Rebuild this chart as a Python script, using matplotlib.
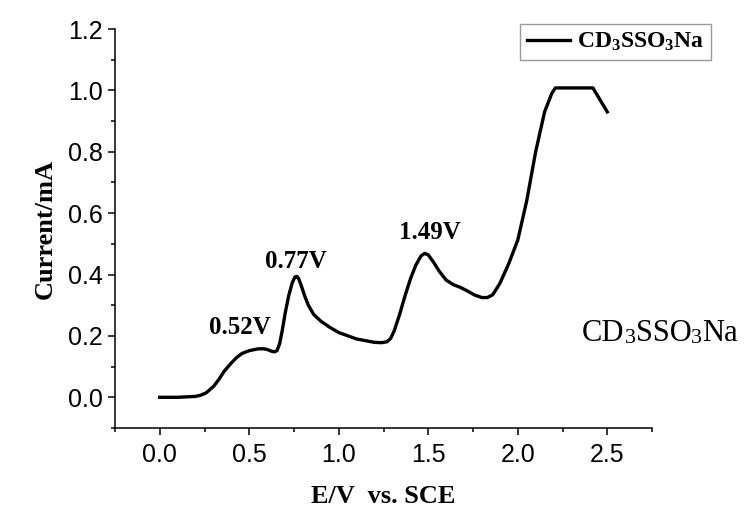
import matplotlib
matplotlib.use('Agg')
import matplotlib.pyplot as plt

# Data
potential = [0.0, 0.1, 0.2, 0.23, 0.26, 0.3, 0.33, 0.36, 0.4, 0.43, 0.46, 0.5, 0.55, 0.58,
             0.6, 0.62, 0.64, 0.655, 0.67, 0.685, 0.7, 0.72, 0.74, 0.755, 0.765, 0.775,
             0.79, 0.81, 0.83, 0.86, 0.9, 0.95, 1.0, 1.1, 1.2, 1.24, 1.27, 1.29, 1.31,
             1.34, 1.37, 1.4, 1.43, 1.46, 1.48, 1.5, 1.53, 1.56, 1.6, 1.64, 1.68, 1.72,
             1.76, 1.8, 1.83, 1.86, 1.9, 1.95, 2.0, 2.05, 2.1, 2.15, 2.19, 2.21, 2.42, 2.5]
current = [0.0, 0.0, 0.003, 0.007, 0.015, 0.035, 0.058, 0.085, 0.112, 0.13, 0.143, 0.152, 0.158, 0.158,
           0.156, 0.151, 0.148, 0.152, 0.175, 0.22, 0.272, 0.33, 0.373, 0.392, 0.394, 0.388,
           0.365, 0.33, 0.3, 0.27, 0.248, 0.228, 0.211, 0.19, 0.179, 0.178, 0.181, 0.192, 0.217,
           0.27, 0.33, 0.385, 0.43, 0.461, 0.469, 0.464, 0.44, 0.412, 0.382, 0.367, 0.358, 0.346,
           0.333, 0.325, 0.325, 0.334, 0.371, 0.436, 0.512, 0.64, 0.8, 0.93, 0.99, 1.008, 1.008, 0.93]

peak_labels = ['0.52V', '0.77V', '1.49V']
peak_x = [0.447, 0.76, 1.51]
peak_y = [0.228, 0.442, 0.537]

plt.rcParams['mathtext.fontset'] = 'custom'
plt.rcParams['mathtext.rm'] = 'Liberation Serif:bold'
plt.rcParams['mathtext.bf'] = 'Liberation Serif:bold'
plt.rcParams['mathtext.it'] = 'Liberation Serif:bold:italic'

fig = plt.figure(figsize=(7.51, 5.12), dpi=100)
ax = fig.add_axes([115/751, 1-428/512, (652-115)/751, (428-29)/512])

ax.plot(potential, current, color='black', linewidth=2.4, label='CD$_3$SSO$_3$Na',
        solid_joinstyle='round')

ax.set_xlim(-0.25, 2.75)
ax.set_ylim(-0.1, 1.2)
ax.set_xticks([0.0, 0.5, 1.0, 1.5, 2.0, 2.5])
ax.set_xticks([-0.25, 0.25, 0.75, 1.25, 1.75, 2.25, 2.75], minor=True)
ax.set_yticks([0.0, 0.2, 0.4, 0.6, 0.8, 1.0, 1.2])
ax.set_yticks([-0.1, 0.1, 0.3, 0.5, 0.7, 0.9, 1.1], minor=True)
ax.set_xticklabels(['0.0', '0.5', '1.0', '1.5', '2.0', '2.5'])
ax.set_yticklabels(['0.0', '0.2', '0.4', '0.6', '0.8', '1.0', '1.2'])

for side in ['top', 'right']:
    ax.spines[side].set_visible(False)
for side in ['left', 'bottom']:
    ax.spines[side].set_linewidth(1.1)

ax.tick_params(which='major', direction='out', length=5, width=1.1, labelsize=18, pad=6)
ax.tick_params(which='minor', direction='out', length=3, width=1.1)
ax.tick_params(axis='y', pad=4)
for lbl in ax.get_xticklabels() + ax.get_yticklabels():
    lbl.set_family('Liberation Sans')

ax.set_xlabel('E/V  vs. SCE', family='Liberation Serif', fontweight='bold', fontsize=19, labelpad=13)
ax.set_ylabel('Current/mA', family='Liberation Serif', fontweight='bold', fontsize=19, labelpad=8)

for txt, x, y in zip(peak_labels, peak_x, peak_y):
    ax.text(x, y, txt, family='Liberation Serif', fontweight='bold', fontsize=18,
            ha='center', va='center')

leg = fig.legend(loc='upper right', bbox_to_anchor=(711/751, 1-24/512), frameon=True,
                 fancybox=False, borderaxespad=0, handlelength=1.8, handletextpad=0.3,
                 borderpad=0.3, prop={'family': 'Liberation Serif', 'weight': 'bold', 'size': 17})
leg.get_frame().set_edgecolor('#808080')
leg.get_frame().set_linewidth(1.0)

# Free text label, with small "3" characters
parts = ['CD', '3', 'SSO', '3', 'Na']
t = fig.text(582/751, 1-341/512, parts[0], family='Liberation Serif', fontsize=22, va='baseline')
for p in parts[1:]:
    size = 16 if p == '3' else 22
    t = ax.annotate(p, xy=(1, 0), xycoords=t, va='bottom', ha='left',
                    family='Liberation Serif', fontsize=size)

fig.savefig('out.png', dpi=100)
